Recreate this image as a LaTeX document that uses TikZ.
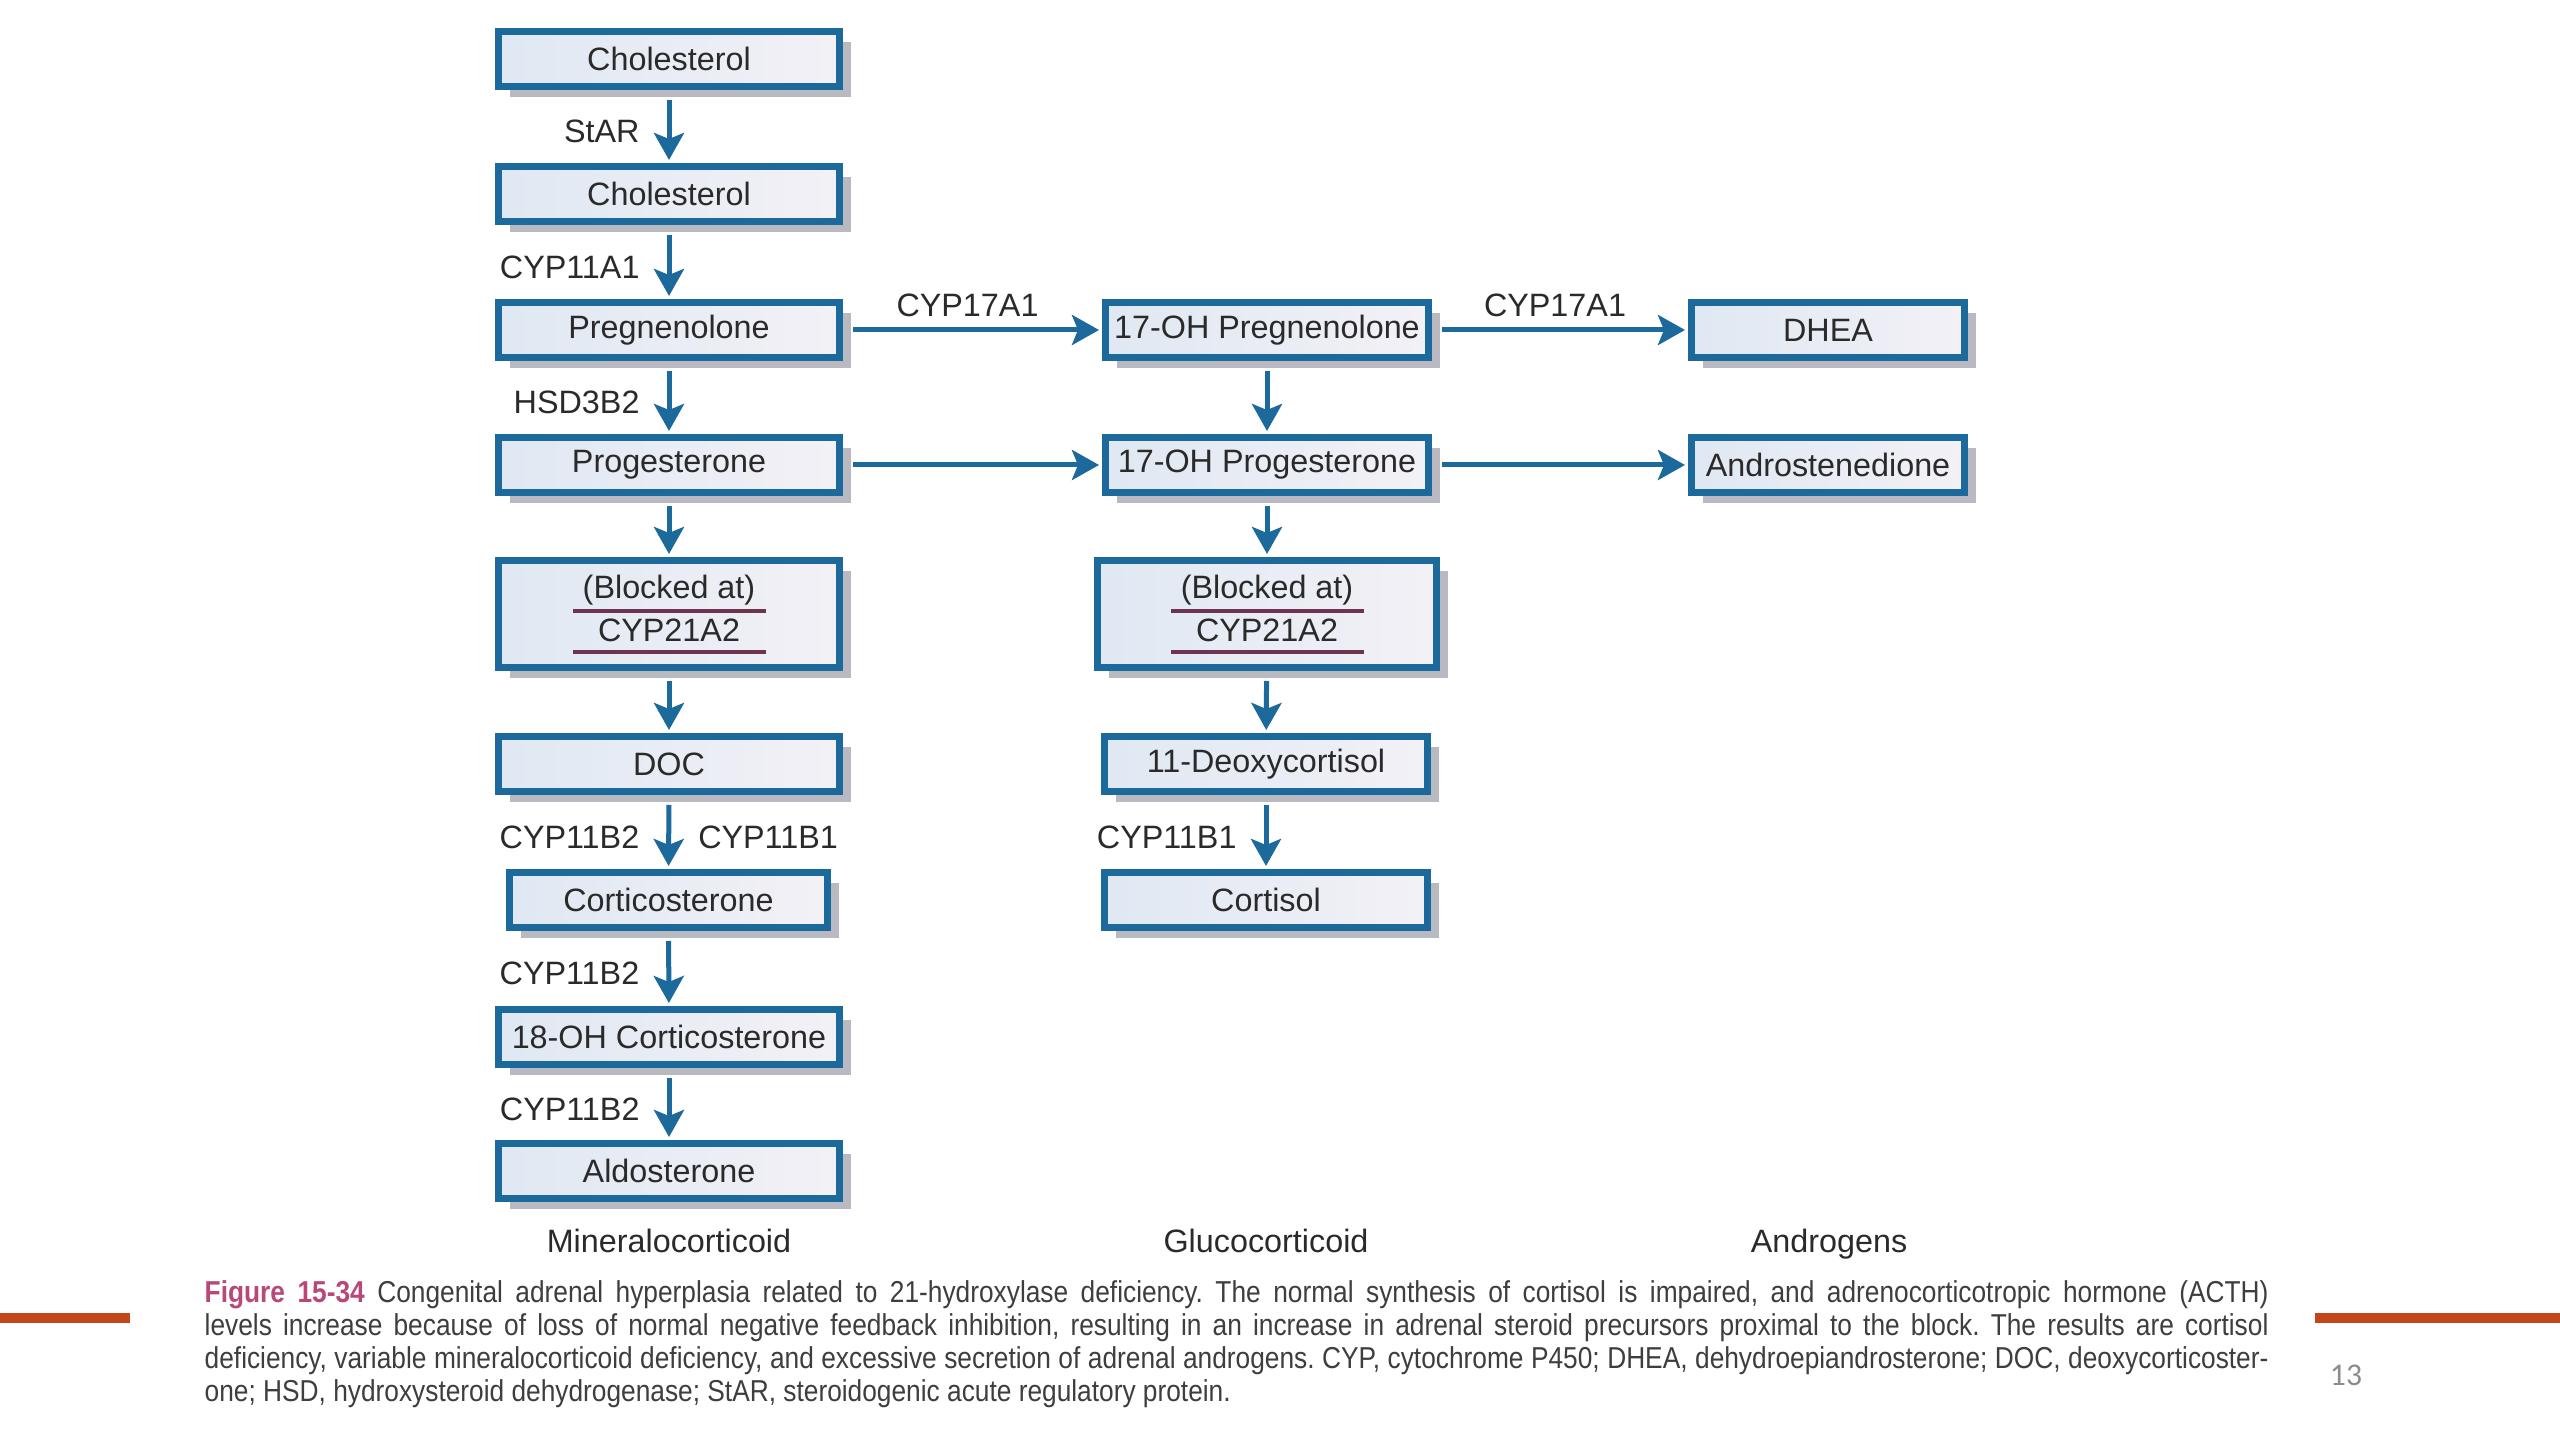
\documentclass[tikz,border=0pt]{standalone}
\usepackage{fontspec}
\setmainfont{Liberation Sans}
\newfontfamily\capfont[FakeStretch=0.87]{Liberation Sans}
\newfontfamily\numfont{Carlito}
\usetikzlibrary{arrows.meta,shadows}
\definecolor{bblue}{HTML}{1C6A9B}
\definecolor{boxL}{HTML}{DFE8F3}
\definecolor{boxR}{HTML}{F3F1F6}
\definecolor{shd}{HTML}{B9B9C1}
\definecolor{txt}{HTML}{2A2A2A}
\definecolor{ulc}{HTML}{6E3350}
\definecolor{figpink}{HTML}{B8487A}
\definecolor{captxt}{HTML}{3E3E3E}
\definecolor{obar}{HTML}{C5451A}
\definecolor{pgnum}{HTML}{8C8C8C}
\frenchspacing
\begin{document}
\begin{tikzpicture}[x=0.1mm,y=-0.1mm,
  box/.style={draw=bblue, line width=0.7mm, left color=boxL, right color=boxR,
    minimum height=5.5mm, inner sep=0pt, text=txt,
    font=\fontsize{9.2}{11}\selectfont,
    drop shadow={shadow xshift=1.1mm, shadow yshift=-1.1mm, fill=shd, opacity=1}},
  wl/.style={box, minimum width=34.1mm},
  wm/.style={box, minimum width=32.3mm},
  wr/.style={box, minimum width=27.3mm},
  lbl/.style={text=txt, inner sep=0pt, font=\fontsize{9.2}{11}\selectfont},
  vl/.style={lbl, left=2.7mm, yshift=-0.5mm},
  vr/.style={lbl, right=2.7mm, yshift=-0.5mm},
  hl/.style={lbl, above=1.1mm, xshift=-0.5mm},
  arr/.style={draw=bblue, line width=0.5mm, shorten <=1mm, shorten >=0.3mm,
    -{Stealth[length=2.7mm,width=3mm,inset=0.6mm]}},
  ul/.style={draw=ulc, line width=0.4mm},
  capl/.style={anchor=base west, inner sep=0pt, text=captxt,
    font=\capfont\fontsize{8.6}{10}\selectfont},
  cat/.style={text=txt, inner sep=0pt, anchor=base, font=\fontsize{9.2}{11}\selectfont}
]
\useasboundingbox (0,0) rectangle (2560,1440);
\fill[white] (0,0) rectangle (2560,1440);

% left column
\node[wl] (ch1) at (669,59) {Cholesterol};
\node[wl] (ch2) at (669,194) {Cholesterol};
\node[wl] (preg) at (669,330) {Pregnenolone};
\node[wl] (prog) at (669,465) {Progesterone};
\node[wl, minimum height=10.7mm] (blk1) at (669,614) {};
\node[wl] (doc) at (669,764) {DOC};
\node[box, minimum width=31.8mm] (cort) at (668.5,900) {Corticosterone};
\node[wl] (oh18) at (669,1037) {18-OH Corticosterone};
\node[wl] (aldo) at (669,1171) {Aldosterone};

% middle column
\node[wm] (ohpreg) at (1267,330) {17-OH Pregnenolone};
\node[wm] (ohprog) at (1267,465) {17-OH Progesterone};
\node[box, minimum width=33.9mm, minimum height=10.7mm] (blk2) at (1267,614) {};
\node[wm] (deoxy) at (1266,764) {11-Deoxycortisol};
\node[wm] (cortisol) at (1266,900) {Cortisol};

% right column
\node[wr] (dhea) at (1828,330) {DHEA};
\node[wr] (andro) at (1828,465) {Androstenedione};

% blocked box contents
\foreach \b in {blk1,blk2}{
  \node[lbl] at ([yshift=2.4mm]\b.center) {(Blocked at)};
  \node[lbl] at ([yshift=-1.6mm]\b.center) {CYP21A2};
  \draw[ul] ([xshift=-9.65mm,yshift=0.3mm]\b.center) -- ([xshift=9.65mm,yshift=0.3mm]\b.center);
  \draw[ul] ([xshift=-9.65mm,yshift=-3.8mm]\b.center) -- ([xshift=9.65mm,yshift=-3.8mm]\b.center);
}

% vertical arrows, left
\draw[arr] (ch1) -- node[vl] {StAR} (ch2);
\draw[arr] (ch2) -- node[vl] {CYP11A1} (preg);
\draw[arr] (preg) -- node[vl] {HSD3B2} (prog);
\draw[arr] (prog) -- (blk1);
\draw[arr] (blk1) -- (doc);
\draw[arr] (doc) -- node[vl] {CYP11B2} node[vr] {CYP11B1} (cort);
\draw[arr] (cort) -- node[vl] {CYP11B2} (oh18);
\draw[arr] (oh18) -- node[vl] {CYP11B2} (aldo);

% vertical arrows, middle
\draw[arr] (ohpreg) -- (ohprog);
\draw[arr] (ohprog) -- (blk2);
\draw[arr] (blk2) -- (deoxy);
\draw[arr] (deoxy) -- node[vl] {CYP11B1} (cortisol);

% horizontal arrows
\draw[arr] (preg) -- node[hl] {CYP17A1} (ohpreg);
\draw[arr] (ohpreg) -- node[hl] {CYP17A1} (dhea);
\draw[arr] (prog) -- (ohprog);
\draw[arr] (ohprog) -- (andro);

% category labels
\node[cat] (mc) at (669,1252) {Mineralocorticoid};
\node[cat] (gc) at (1266,1252) {Glucocorticoid};
\node[cat] (an) at (1829,1252) {Androgens};

% caption
\node[capl] (cap1) at (204,1302) {\makebox[206.4mm][s]{\textcolor{figpink}{\bfseries Figure 15-34} Congenital adrenal hyperplasia related to 21-hydroxylase deficiency. The normal synthesis of cortisol is impaired, and adrenocorticotropic hormone (ACTH)}};
\node[capl] (cap2) at (204,1335) {\makebox[206.4mm][s]{levels increase because of loss of normal negative feedback inhibition, resulting in an increase in adrenal steroid precursors proximal to the block. The results are cortisol}};
\node[capl] (cap3) at (204,1368) {\makebox[206.4mm][s]{deficiency, variable mineralocorticoid deficiency, and excessive secretion of adrenal androgens. CYP, cytochrome P450; DHEA, dehydroepiandrosterone; DOC, deoxycorticoster-}};
\node[capl] (cap4) at (204,1401) {one; HSD, hydroxysteroid dehydrogenase; StAR, steroidogenic acute regulatory protein.};

% slide decorations
\fill[obar] (0,1313) rectangle (130,1323);
\fill[obar] (2315,1313) rectangle (2560,1323);
\node[text=pgnum, inner sep=0pt, font=\numfont\fontsize{9}{10}\selectfont] (pg) at (2346,1375) {13};
\end{tikzpicture}
\end{document}
